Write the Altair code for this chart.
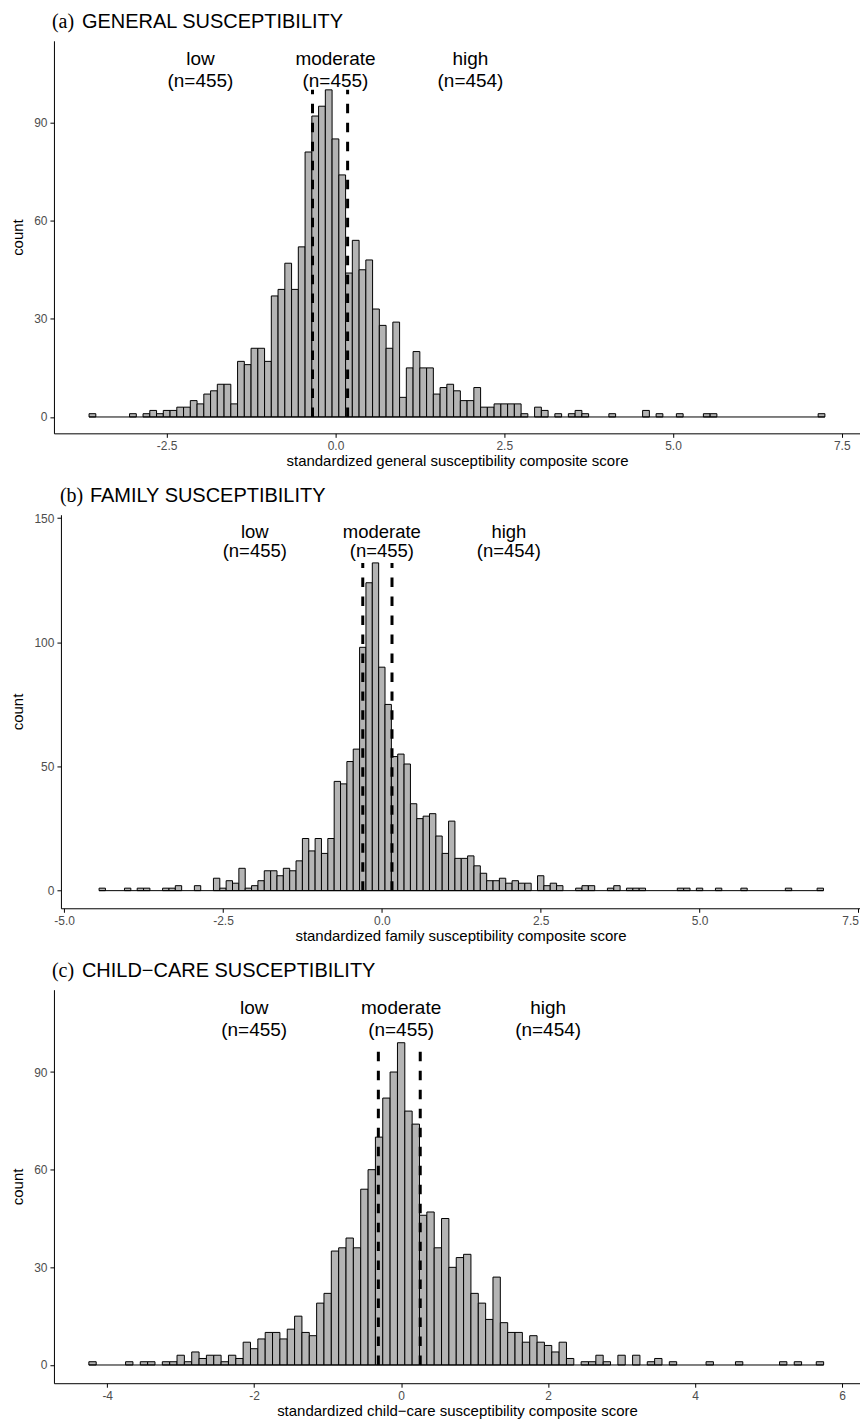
import altair as alt
import pandas as pd

SANS = "Liberation Sans"
SERIF = "Liberation Serif"
BIN_WIDTH = 0.1
BAR_FILL = "#b4b4b4"

group_names = ["low", "moderate", "high"]
group_ns = ["(n=455)", "(n=455)", "(n=454)"]
group_x = [-2.0, 0.0, 2.0]

# ---------------- (a) general susceptibility ----------------
a_tag = "(a)"
a_title = "GENERAL SUSCEPTIBILITY"
a_xtitle = "standardized general susceptibility composite score"
a_centers = [-3.6, -3.0, -2.8, -2.7, -2.6, -2.5, -2.4, -2.3, -2.2, -2.1, -2.0,
             -1.9, -1.8, -1.7, -1.6, -1.5, -1.4, -1.3, -1.2, -1.1, -1.0,
             -0.9, -0.8, -0.7, -0.6, -0.5, -0.4, -0.3, -0.2, -0.1, 0.0,
             0.1, 0.2, 0.3, 0.4, 0.5, 0.6, 0.7, 0.8, 0.9, 1.0,
             1.1, 1.2, 1.3, 1.4, 1.5, 1.6, 1.7, 1.8, 1.9, 2.0,
             2.1, 2.2, 2.3, 2.4, 2.5, 2.6, 2.7, 2.8, 3.0, 3.1,
             3.3, 3.5, 3.6, 3.7, 4.1, 4.6, 4.8, 5.1, 5.5, 5.6, 7.2]
a_counts = [1, 1, 1, 2, 1, 2, 2, 3, 3, 5, 4,
            7, 8, 10, 10, 4, 17, 16, 21, 21, 17,
            37, 39, 47, 39, 52, 81, 92, 95, 100, 85,
            74, 44, 54, 45, 48, 33, 28, 21, 29, 6,
            15, 20, 15, 15, 7, 9, 10, 8, 5, 5,
            9, 3, 3, 4, 4, 4, 4, 1, 3, 2,
            1, 1, 2, 1, 1, 2, 1, 1, 1, 1, 1]
a_cuts = [-0.34, 0.18]
a_xticks = [-2.5, 0.0, 2.5, 5.0, 7.5]
a_yticks = [0, 30, 60, 90]
a_label_y = 109.4
a_label_lh = 22.3

# ---------------- (b) family susceptibility ----------------
b_tag = "(b)"
b_title = "FAMILY SUSCEPTIBILITY"
b_xtitle = "standardized family susceptibility composite score"
b_centers = [-4.4, -4.0, -3.8, -3.7, -3.4, -3.3, -3.2, -2.9,
             -2.6, -2.5, -2.4, -2.3, -2.2, -2.1, -2.0, -1.9, -1.8, -1.7,
             -1.6, -1.5, -1.4, -1.3, -1.2, -1.1, -1.0, -0.9, -0.8, -0.7,
             -0.6, -0.5, -0.4, -0.3, -0.2, -0.1, 0.0, 0.1, 0.2, 0.3,
             0.4, 0.5, 0.6, 0.7, 0.8, 0.9, 1.0, 1.1, 1.2, 1.3,
             1.4, 1.5, 1.6, 1.7, 1.8, 1.9, 2.0, 2.1, 2.2, 2.3,
             2.5, 2.6, 2.7, 2.8, 3.1, 3.2, 3.3, 3.6, 3.7, 3.9, 4.0, 4.1,
             4.7, 4.8, 5.0, 5.3, 5.7, 6.4, 6.9]
b_counts = [1, 1, 1, 1, 1, 1, 2, 2,
            5, 1, 4, 3, 9, 1, 2, 4, 8, 8,
            6, 9, 8, 12, 21, 16, 21, 15, 21, 44,
            43, 52, 57, 98, 124, 132, 90, 75, 54, 55,
            51, 35, 29, 30, 31, 22, 15, 28, 13, 13,
            14, 10, 7, 4, 4, 5, 3, 4, 3, 3,
            6, 2, 3, 2, 1, 2, 2, 1, 2, 1, 1, 1,
            1, 1, 1, 1, 1, 1, 1]
b_cuts = [-0.30, 0.16]
b_xticks = [-5.0, -2.5, 0.0, 2.5, 5.0, 7.5]
b_yticks = [0, 50, 100, 150]
b_label_y = 144.6
b_label_lh = 19.0

# ---------------- (c) child-care susceptibility ----------------
c_tag = "(c)"
c_title = "CHILD\u2212CARE SUSCEPTIBILITY"
c_xtitle = "standardized child\u2212care susceptibility composite score"
c_centers = [-4.2, -3.7, -3.5, -3.4, -3.2, -3.1,
             -3.0, -2.9, -2.8, -2.7, -2.6, -2.5, -2.4, -2.3, -2.2, -2.1,
             -2.0, -1.9, -1.8, -1.7, -1.6, -1.5, -1.4, -1.3, -1.2, -1.1,
             -1.0, -0.9, -0.8, -0.7, -0.6, -0.5, -0.4, -0.3, -0.2, -0.1,
             0.0, 0.1, 0.2, 0.3, 0.4, 0.5, 0.6, 0.7, 0.8, 0.9,
             1.0, 1.1, 1.2, 1.3, 1.4, 1.5, 1.6, 1.7, 1.8, 1.9,
             2.0, 2.1, 2.2, 2.3, 2.5, 2.6, 2.7, 2.8, 3.0, 3.2, 3.4, 3.5, 3.7,
             4.2, 4.6, 5.2, 5.4, 5.7]
c_counts = [1, 1, 1, 1, 1, 1,
            3, 1, 4, 2, 3, 3, 1, 3, 2, 7,
            5, 8, 10, 10, 8, 11, 15, 10, 9, 19,
            22, 35, 36, 39, 36, 54, 60, 70, 82, 90,
            99, 78, 74, 46, 47, 36, 45, 30, 33, 34,
            22, 19, 14, 27, 13, 10, 10, 7, 9, 7,
            6, 4, 7, 2, 1, 1, 3, 1, 3, 3, 1, 2, 1,
            1, 1, 1, 1, 1]
c_cuts = [-0.31, 0.26]
c_xticks = [-4, -2, 0, 2, 4, 6]
c_yticks = [0, 30, 60, 90]
c_label_y = 109.7
c_label_lh = 22.5


def panel(tag, title, xtitle, centers, counts, cuts, xdomain, ydomain,
          xticks, yticks, xdec, label_y, label_lh, label_size, width, height,
          tag_x, title_x):
    bars = pd.DataFrame({"center": centers, "count": counts})
    bars["lo"] = bars["center"] - BIN_WIDTH / 2
    bars["hi"] = bars["center"] + BIN_WIDTH / 2
    bars["zero"] = 0

    base_df = pd.DataFrame({"lo": [min(centers) - BIN_WIDTH / 2],
                            "hi": [max(centers) + BIN_WIDTH / 2],
                            "zero": [0]})
    cut_df = pd.DataFrame({"lo": cuts, "zero": [0, 0],
                           "top": [max(counts), max(counts)]})
    lab_df = pd.DataFrame({"lo": group_x,
                           "label": [f"{a}\n{b}" for a, b in zip(group_names, group_ns)],
                           "ly": [label_y] * 3})

    fmt = f".{xdec}f"
    xs = alt.Scale(domain=xdomain, nice=False, zero=False)
    ys = alt.Scale(domain=ydomain, nice=False, zero=False)
    # labels sitting right on the scale end (within 2px) are kept inside the page
    xaxis = alt.Axis(values=xticks, title=xtitle, labelFlush=2,
                     labelExpr=(f"datum.value < 0 ? '-' + format(-datum.value, '{fmt}')"
                                f" : format(datum.value, '{fmt}')"))
    yaxis = alt.Axis(values=yticks, title="count")

    def X(f):
        return alt.X(f, type="quantitative", scale=xs, axis=xaxis)

    def Y(f):
        return alt.Y(f, type="quantitative", scale=ys, axis=yaxis)

    rects = alt.Chart(bars).mark_rect(
        fill=BAR_FILL, stroke="black", strokeWidth=1
    ).encode(x=X("lo"), x2="hi:Q", y=Y("count"), y2="zero:Q")

    baseline = alt.Chart(base_df).mark_rule(color="black", strokeWidth=1).encode(
        x=X("lo"), x2="hi:Q", y=Y("zero"))

    dashed = alt.Chart(cut_df).mark_rule(
        color="black", strokeWidth=3, strokeDash=[9.5, 9.5]
    ).encode(x=X("lo"), y=Y("zero"), y2="top:Q")

    labels = alt.Chart(lab_df).mark_text(
        font=SANS, fontSize=label_size, color="black", baseline="middle", align="center",
        lineBreak="\n", lineHeight=label_lh,
    ).encode(x=X("lo"), y=Y("ly"), text="label:N")

    head = alt.Chart(pd.DataFrame({"tag": [tag], "title": [title]}))
    tag_mark = head.mark_text(
        font=SERIF, fontSize=20, color="black", baseline="alphabetic", align="left"
    ).encode(x=alt.value(tag_x), y=alt.value(-13), text="tag:N")
    title_mark = head.mark_text(
        font=SANS, fontSize=20, color="black", baseline="alphabetic", align="left"
    ).encode(x=alt.value(title_x), y=alt.value(-13), text="title:N")

    layered = alt.layer(rects, baseline, dashed, labels, tag_mark, title_mark).properties(
        width=width, height=height,
    )
    # a 1px invisible spacer so each panel's plot area starts after its own axis
    spacer = alt.Chart(pd.DataFrame({"s": [0]})).mark_point(opacity=0, size=1).encode(
        x=alt.value(0), y=alt.value(0)
    ).properties(width=1, height=1)
    return alt.hconcat(spacer, layered, spacing=0)


pa = panel(a_tag, a_title, a_xtitle, a_centers, a_counts, a_cuts,
           [-4.17, 7.77], [-5.0, 115.0], a_xticks, a_yticks, 1, a_label_y, a_label_lh, 19,
           807, 393, -2, 28)
pb = panel(b_tag, b_title, b_xtitle, b_centers, b_counts, b_cuts,
           [-5.05, 7.525], [-7.1, 151.4], b_xticks, b_yticks, 1, b_label_y, b_label_lh, 18.5,
           800, 394, -1, 29)
pc = panel(c_tag, c_title, c_xtitle, c_centers, c_counts, c_cuts,
           [-4.725, 6.245], [-5.6, 115.3], c_xticks, c_yticks, 0, c_label_y, c_label_lh, 19,
           807, 394, -2, 28)

chart = alt.vconcat(pa, pb, pc, spacing=17.5).properties(
    padding={"left": 0, "top": 3, "right": 0, "bottom": 0},
    background="white",
).configure_view(stroke=None).configure_axis(
    grid=False,
    domainColor="black", domainWidth=1,
    tickColor="black", tickWidth=1, tickSize=4,
    labelColor="#4d4d4d", labelFont=SANS, labelFontSize=12, labelPadding=3,
    titleColor="black", titleFont=SANS, titleFontSize=15, titleFontWeight="normal",
).configure_axisX(titlePadding=2).configure_axisY(titlePadding=8)

chart.save("out.html", embed_options={"renderer": "svg", "actions": False})
